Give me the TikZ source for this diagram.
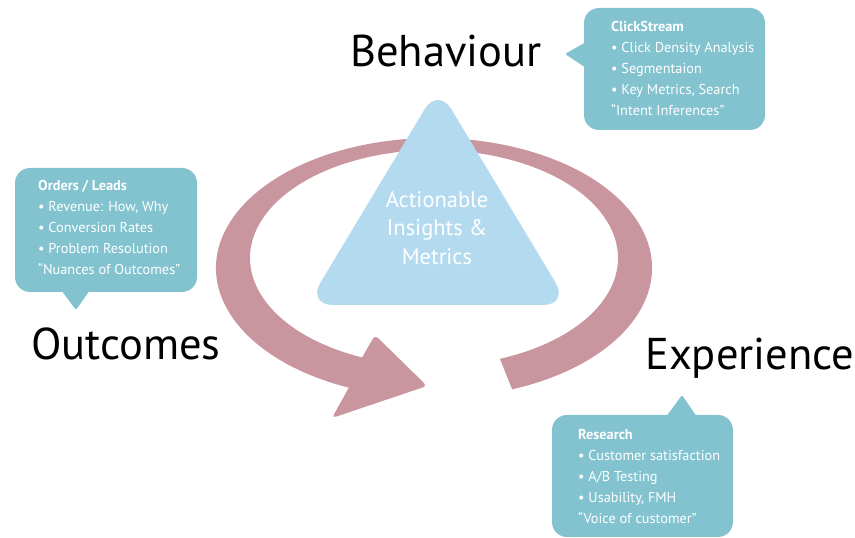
\documentclass[tikz,border=0pt]{standalone}
\usepackage{fontspec}
\setmainfont{PT Sans}
\usetikzlibrary{calc}
\definecolor{ringpink}{RGB}{201,149,158}
\definecolor{triblue}{RGB}{180,218,240}
\definecolor{bubbleteal}{RGB}{130,195,207}
\begin{document}
\begin{tikzpicture}[x=1pt,y=1pt,
	bubble/.style={fill=bubbleteal,rounded corners=15pt},
	tail/.style={fill=bubbleteal,rounded corners=2pt},
	bubbletext/.style={anchor=north west,inner sep=0pt,align=left,text=white,font=\fontsize{14.3}{21}\selectfont},
	bigword/.style={anchor=base west,inner sep=0pt,font=\fontsize{44.5}{50}\selectfont}]
	\useasboundingbox (0,0) rectangle (855,538);
	% ring and its arrow head
	\fill[ringpink] ($(434,270)+(-69:218 and 130)$) arc[start angle=-69,end angle=247,x radius=218,y radius=130]
		[rounded corners=4pt] -- (332,120) -- (427,152) -- (375,203) [sharp corners]
		-- ($(434,280)+(247:184 and 108)$) arc[start angle=247,end angle=-69,x radius=184,y radius=108] -- cycle;
	% triangle in the middle
	\fill[triblue,rounded corners=26pt] (438,451) -- (569,233) -- (307,233) -- cycle;
	\node[text=white,align=center,font=\fontsize{22.5}{28.5}\selectfont] (insight) at (437,310) {Actionable\\Insights \&\\Metrics};
	% bubbles
	\fill[bubble] (584,408) rectangle (765,530);
	\fill[tail] (586,496) -- (565,484) -- (586,470) -- cycle;
	\node[bubbletext] (clickstream) at (611,517) {\textbf{ClickStream}\\• Click Density Analysis\\• Segmentaion\\• Key Metrics, Search\\“Intent Inferences”};
	\fill[bubble] (15,246) rectangle (197,370);
	\fill[tail] (61,248) -- (76,228) -- (90,248) -- cycle;
	\node[bubbletext] (orders) at (38,358) {\textbf{Orders / Leads}\\• Revenue: How, Why\\• Conversion Rates\\• Problem Resolution\\“Nuances of Outcomes”};
	\fill[bubble] (552,1) rectangle (733,123);
	\fill[tail] (666,121) -- (682,143) -- (697,121) -- cycle;
	\node[bubbletext] (research) at (578,109) {\textbf{Research}\\• Customer satisfaction\\• A/B Testing\\• Usability, FMH\\“Voice of customer”};
	% the three words
	\node[bigword] (behaviour) at (350,471) {Behaviour};
	\node[bigword] (outcomes) at (31,178) {Outcomes};
	\node[bigword] (experience) at (645,168) {Experience};
\end{tikzpicture}
\end{document}
